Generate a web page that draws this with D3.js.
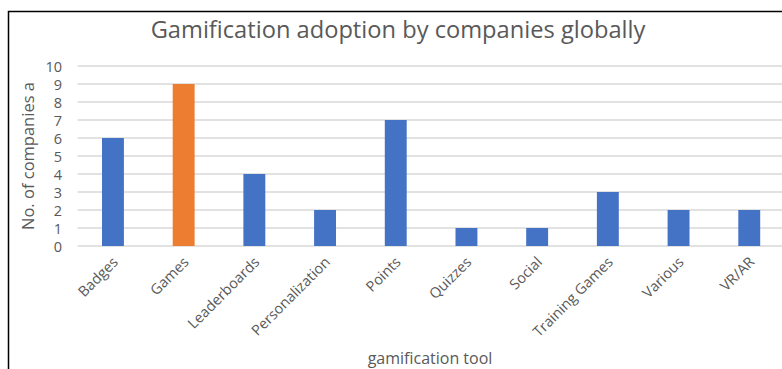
<!DOCTYPE html>
<html><head><meta charset="utf-8">
<script src="https://cdn.jsdelivr.net/npm/d3@7"></script>
<style>body{margin:0;background:#fff}svg{display:block}</style>
</head><body>
<script>
const categories = ["Badges","Games","Leaderboards","Personalization","Points","Quizzes","Social","Training Games","Various","VR/AR"];
const values = [6,9,4,2,7,1,1,3,2,2];
const barColors = ["#4472C4","#ED7D31","#4472C4","#4472C4","#4472C4","#4472C4","#4472C4","#4472C4","#4472C4","#4472C4"];
const yTicks = [0,1,2,3,4,5,6,7,8,9,10];
const titleText = "Gamification adoption by companies globally";
const yTitle = "No. of companies a";
const xTitle = "gamification tool";

const W = 782, H = 369;
const font = "'Open Sans', 'Noto Sans', sans-serif";
const svg = d3.select("body").append("svg").attr("width", W).attr("height", H);

// frame
svg.append("path").attr("d", `M8.5,${H} V11.5 H${W}`).attr("fill","none").attr("stroke","#000").attr("stroke-width",1.5);

const x = d3.scaleBand().domain(categories).range([77.6, 784.6]).paddingInner(0.69).paddingOuter(0.345);
const y = d3.scaleLinear().domain([0,10]).range([246, 66]);

// gridlines
svg.append("g").selectAll("line").data(yTicks).join("line")
  .attr("x1", 77.6).attr("x2", W).attr("y1", d=>y(d)).attr("y2", d=>y(d))
  .attr("stroke", "#d9d9d9").attr("stroke-width", 1.5);

// y axis labels
const yAxis = d3.axisLeft(y).tickValues(yTicks).tickSize(0).tickPadding(0);
const gy = svg.append("g").attr("transform","translate(62,0)").call(yAxis);
gy.select(".domain").remove();
gy.selectAll("text").attr("font-family", font).attr("font-size", 14.5).attr("fill","#595959").attr("dy","0.35em");

// bars
svg.append("g").selectAll("rect").data(values).join("rect")
  .attr("x", (d,i)=>x(categories[i])).attr("width", x.bandwidth())
  .attr("y", d=>y(d)).attr("height", d=>y(0)-y(d))
  .attr("fill", (d,i)=>barColors[i]);

// x axis labels
const xAxis = d3.axisBottom(x).tickSize(0).tickPadding(0);
const gx = svg.append("g").attr("transform","translate(0,246)").call(xAxis);
gx.select(".domain").remove();
gx.selectAll("text").attr("font-family", font).attr("font-size", 14.5).attr("fill","#595959")
  .attr("text-anchor","end").attr("dy", null)
  .attr("transform","translate(6,17) rotate(-45)");

// title
const t = svg.append("text").attr("x", 398).attr("y", 38).attr("text-anchor","middle")
  .attr("font-family", font).attr("font-size", 21).attr("fill","#595959").text(titleText);
const tw = t.node().getComputedTextLength();
t.attr("font-size", 21 * 495 / tw);

// y title
svg.append("text").attr("transform","translate(34,156) rotate(-90)").attr("text-anchor","middle")
  .attr("font-family", font).attr("font-size", 16.5).attr("fill","#595959").text(yTitle);

// x title
svg.append("text").attr("x", 430).attr("y", 364).attr("text-anchor","middle")
  .attr("font-family", font).attr("font-size", 16).attr("fill","#595959").text(xTitle);
</script>
</body></html>
